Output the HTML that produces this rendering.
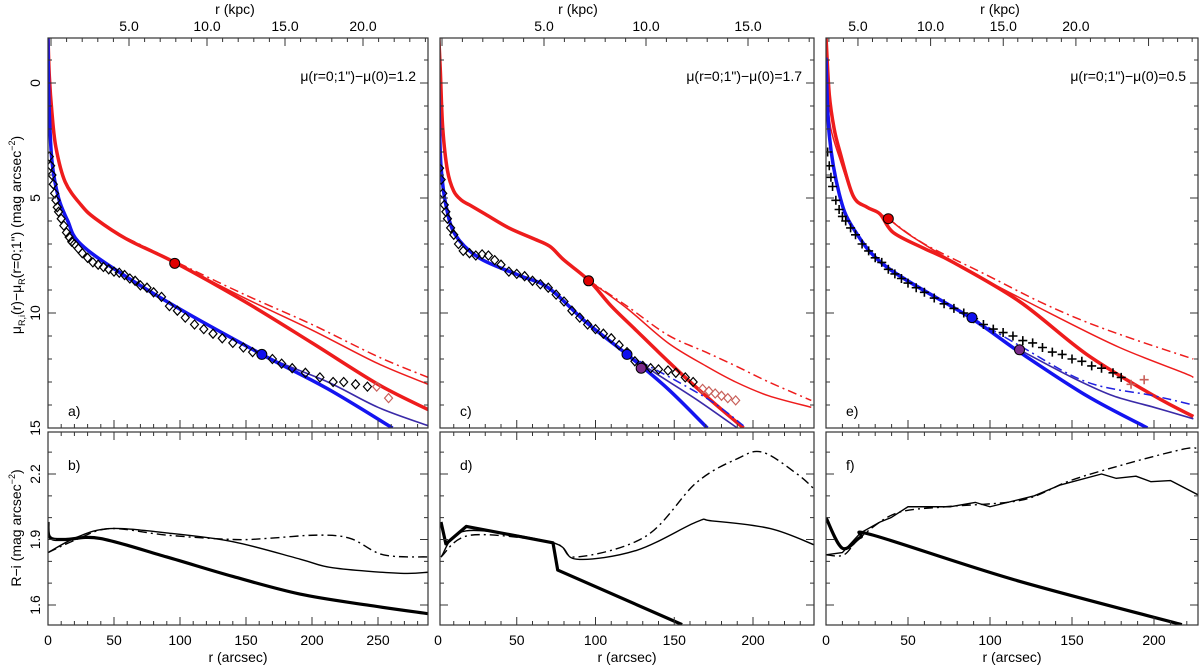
<!DOCTYPE html>
<html><head><meta charset="utf-8"><style>
html,body{margin:0;padding:0;background:#fff;}
svg{display:block;font-family:"Liberation Sans",sans-serif;}
</style></head><body>
<svg id="fig" width="1200" height="668" viewBox="0 0 1200 668" xmlns="http://www.w3.org/2000/svg"></svg>
<script>
// ---------- data ----------
const redThickA_r=[0,1,3,6,13,25,36,60,96,149,200,250,288];
const redThickA_m=[-2,-0.3,1.3,2.8,4.3,5.3,5.9,6.8,7.8,9.5,11.3,13.1,14.2];
const redThinA_r=[60,96,149,200,250,288];
const redThinA_m=[6.8,7.8,9.35,10.74,12.2,13.1];
const redDashA_r=[60,96,149,200,250,288];
const redDashA_m=[6.75,7.75,9.2,10.5,11.9,12.8];
const blueThickA_r=[0,0.7,3,8,15,23,48,99,162,212,261];
const blueThickA_m=[-2,0.8,3.4,5.0,6.0,6.9,8.0,9.8,11.8,13.3,15];
const blueThinA_r=[99,162,212,250,288];
const blueThinA_m=[9.8,11.8,13.0,14.1,14.9];
const dataA_r=[1,2,3,4,5,6,7,8,10,12,14,16,18,20,23,26,30,34,38,42,46,50,54,58,62,66,70,75,80,86,92,98,104,111,118,125,132,140,148,155,162,170,177,185,195,206,216,224,233,242];
const dataA_m=[3.2,3.6,4.0,4.4,4.8,5.1,5.4,5.6,5.9,6.2,6.5,6.7,6.9,7.0,7.2,7.4,7.6,7.8,7.9,8.0,8.1,8.2,8.25,8.35,8.5,8.6,8.8,8.9,9.1,9.3,9.7,9.9,10.2,10.5,10.7,10.9,11.1,11.3,11.5,11.7,11.8,12.0,12.2,12.4,12.6,12.8,13.0,13.0,13.1,13.2];
const extraA_r=[249,258];
const extraA_m=[13.2,13.7];

const redThickC_r=[0.5,1.5,3,6,10,15,20,30,45,60,71,80,96,110,125,140,157,175,194];
const redThickC_m=[-2,-0.5,1.95,3.8,4.7,5.1,5.3,5.7,6.3,6.75,7.1,7.7,8.6,9.7,10.7,11.7,12.8,13.9,15];
const redThinC_r=[96,120,146,170,189,210,237];
const redThinC_m=[8.6,9.8,11.3,12.3,13.0,13.6,14.1];
const redDashC_r=[96,120,146,170,189,210,237];
const redDashC_m=[8.6,9.7,10.96,11.7,12.3,13.0,13.8];
const blueThickC_r=[0,0.5,1,2,5,11,26,51,70,94,120,146,171];
const blueThickC_m=[-2,0,2,3.7,5.3,6.6,7.6,8.35,8.9,10.4,11.8,13.3,15];
const blueThinC_r=[120,140,165,190];
const blueThinC_m=[11.8,12.7,13.8,15];
const blueDashC_r=[128,150,175,194];
const blueDashC_m=[12.1,12.9,13.9,14.9];
const dataC_r=[1,2,3,4,5,6,8,10,13,16,20,24,28,32,36,40,45,50,55,60,65,70,75,80,85,90,95,100,105,110,115,120,125,130,135,140,146,151,157,162];
const dataC_m=[3.7,4.2,4.8,5.3,5.6,5.9,6.3,6.6,7.0,7.3,7.4,7.5,7.45,7.5,7.7,7.9,8.2,8.3,8.4,8.6,8.75,8.9,9.2,9.5,9.9,10.2,10.5,10.7,10.9,11.1,11.4,11.7,12.1,12.3,12.4,12.45,12.5,12.6,12.8,13.0];
const extraC_r=[168,172,176,180,184,189];
const extraC_m=[13.3,13.4,13.5,13.6,13.7,13.8];

const redThickE_r=[0,2,5,8.5,16.5,25,33,41,60,77.6,118,159,200,224];
const redThickE_m=[-2,0.5,2,3.0,4.9,5.4,5.7,6.5,7.2,7.8,9.5,11.8,13.6,14.5];
const redThinE_r=[0.5,3,8,16.5,25,33,38,53,88,139,179,218,224];
const redThinE_m=[0.6,2.0,3.2,4.9,5.4,5.7,5.9,6.7,8.2,10.1,11.5,12.6,12.8];
const redDashE_r=[38,60,98,130,159,190,224];
const redDashE_m=[5.9,7.0,8.35,9.5,10.4,11.2,12.0];
const blueThickE_r=[0,2,8,16.5,37,88,118,159,196];
const blueThickE_m=[-1.1,2.26,4.8,6.3,8.0,10.2,11.7,13.6,15];
const blueThinE_r=[118,150,175,200,224];
const blueThinE_m=[11.6,12.8,13.6,14.1,14.6];
const blueDashE_r=[89,120,159,200,224];
const blueDashE_m=[10.2,11.5,13.0,13.6,14.0];
const dataE_r=[1,2,3,4,6,8,10,12,15,18,22,26,30,34,38,42,46,50,55,60,66,72,78,84,90,96,102,108,114,120,126,132,138,144,150,156,162,168,175,180];
const dataE_m=[3.0,3.6,4.1,4.5,5.1,5.5,5.8,6.0,6.3,6.6,7.0,7.3,7.6,7.8,8.1,8.3,8.5,8.7,8.9,9.1,9.35,9.6,9.8,10.0,10.25,10.5,10.7,10.85,11.0,11.2,11.3,11.5,11.7,11.8,12.0,12.1,12.3,12.4,12.6,12.8];
const extraE_r=[186,194];
const extraE_m=[13.1,12.9];

const dotsA=[[96,7.84,'#e00000'],[162,11.8,'#1010ee']];
const dotsC=[[95.6,8.6,'#e00000'],[120,11.8,'#1010ee'],[129,12.4,'#7a2a8a']];
const dotsE=[[38,5.9,'#e00000'],[89,10.2,'#1010ee'],[118,11.6,'#7a2a8a']];

const colThickB_r=[0,1.4,13,39.4,89.9,140.4,190.9,241.4,288];
const colThickB_v=[1.98,1.91,1.90,1.905,1.82,1.73,1.65,1.60,1.56];
const colThinB_r=[0,21.7,47,90,140,191,216,267,288];
const colThinB_v=[1.84,1.91,1.95,1.93,1.89,1.81,1.77,1.745,1.75];
const colDashB_r=[0,21.7,47,90,140,166,204,229,254,288];
const colDashB_v=[1.84,1.90,1.95,1.92,1.90,1.905,1.92,1.905,1.83,1.82];

const colThickD_r=[1.9,5,18,73,76,155];
const colThickD_v=[1.98,1.88,1.96,1.885,1.76,1.51];
const colThinD_r=[1.9,18,73,88,126,164,174,211,239];
const colThinD_v=[1.82,1.94,1.885,1.81,1.85,1.98,1.985,1.95,1.875];
const colDashD_r=[1.9,21,73,88,132,164,190,206,228,239];
const colDashD_v=[1.82,1.92,1.885,1.82,1.915,2.16,2.27,2.30,2.20,2.13];

const colThickF_r=[0,10,21,28.7,115,217];
const colThickF_v=[2.00,1.86,1.91,1.92,1.715,1.51];
const colThinF_r=[0,10,21,33,39.6,50,76,91,100,127,143,168,177,189,198,210,228];
const colThinF_v=[1.83,1.84,1.93,1.98,2.0,2.05,2.05,2.07,2.05,2.10,2.15,2.20,2.18,2.19,2.165,2.17,2.10];
const colDashF_r=[0,11,21,42.7,73,119,149,180,210,224,228];
const colDashF_v=[1.83,1.83,1.91,2.02,2.05,2.08,2.17,2.24,2.30,2.32,2.30];

const xTicksA=[0,50,100,150,200,250];
const xTicksC=[0,50,100,150,200];
const xTicksE=[0,50,100,150,200];
const kpcA=[5,10,15,20];
const kpcC=[5,10,15];
const kpcE=[5,10,15,20];
const muTicks=[0,5,10,15];
const colTicks=[1.6,1.9,2.2];

// ---------- geometry ----------
const NS='http://www.w3.org/2000/svg';
const svg=document.getElementById('fig');
const TOP0=38,TOP1=428,BOT0=432,BOT1=625;
const muY=m=>83+m*23;
const colY=v=>474-(v-2.2)*218.3;
const panels=[
 {id:'a',lab:'a)',lab2:'b)',x0:48,x1:428,rx:r=>48+1.32*r,rmax:288,minor:10,xt:xTicksA,kx:k=>51+15.6*k,kt:kpcA,kmax:24,txt:'μ(r=0;1")−μ(0)=1.2',tx:235},
 {id:'c',lab:'c)',lab2:'d)',x0:440,x1:814,rx:r=>438+1.575*r,rmax:239,minor:10,xt:xTicksC,kx:k=>442+20.4*k,kt:kpcC,kmax:18,txt:'μ(r=0;1")−μ(0)=1.7',tx:578},
 {id:'e',lab:'e)',lab2:'f)',x0:826,x1:1198,rx:r=>826+1.64*r,rmax:227,minor:10,xt:xTicksE,kx:k=>785.3+14.53*k,kt:kpcE,kmax:28,txt:'μ(r=0;1")−μ(0)=0.5',tx:1000}
];
function mk(tag,attrs,parent){const e=document.createElementNS(NS,tag);for(const k in attrs)e.setAttribute(k,attrs[k]);(parent||svg).appendChild(e);return e;}
function smooth(pts){
 if(pts.length<3)return 'M'+pts.map(p=>p.join(',')).join('L');
 let d='M'+pts[0][0]+','+pts[0][1];
 for(let i=0;i<pts.length-1;i++){
  const p0=pts[Math.max(0,i-1)],p1=pts[i],p2=pts[i+1],p3=pts[Math.min(pts.length-1,i+2)];
  const c1=[p1[0]+(p2[0]-p0[0])/6,p1[1]+(p2[1]-p0[1])/6];
  const c2=[p2[0]-(p3[0]-p1[0])/6,p2[1]-(p3[1]-p1[1])/6];
  d+='C'+c1.join(',')+' '+c2.join(',')+' '+p2.join(',');
 }
 return d;
}
function line(g,P,rs,vs,yf,color,w,dash,name,poly){
 const pts=rs.map((r,i)=>[P.rx(r),yf(vs[i])]);
 const e=mk('path',{d:poly?'M'+pts.map(p=>p.join(',')).join('L'):smooth(pts),fill:'none',stroke:color,'stroke-width':w,'stroke-linejoin':'round'},g);
 if(dash)e.setAttribute('stroke-dasharray',dash);
 
 
}
function diamonds(g,P,rs,vs,color,name){
 rs.forEach((r,i)=>{const x=P.rx(r),y=muY(vs[i]);
  const e=mk('path',{d:`M${x},${y-4.5}L${x+4},${y}L${x},${y+4.5}L${x-4},${y}Z`,fill:'none',stroke:color,'stroke-width':1.2},g);
  
  });
}
function pluses(g,P,rs,vs,color,name){
 rs.forEach((r,i)=>{const x=P.rx(r),y=muY(vs[i]);
  const e=mk('path',{d:`M${x-4.5},${y}H${x+4.5}M${x},${y-4.5}V${y+4.5}`,fill:'none',stroke:color,'stroke-width':1.6},g);
  
  });
}
function text(g,x,y,s,size,anchor,rot,name){
 const t=mk('text',{x:x,y:y,'font-size':size,'text-anchor':anchor||'middle',fill:'#000'},g);
 if(rot)t.setAttribute('transform',`rotate(-90 ${x} ${y})`);
 t.textContent=s;
 
 
 return t;
}

const series={
 a:{rt:[redThickA_r,redThickA_m],rn:[redThinA_r,redThinA_m],rd:[redDashA_r,redDashA_m],bt:[blueThickA_r,blueThickA_m],bn:[blueThinA_r,blueThinA_m],bd:null,d:[dataA_r,dataA_m],x:[extraA_r,extraA_m],dots:dotsA,marker:'d',
    ct:[colThickB_r,colThickB_v],cn:[colThinB_r,colThinB_v],cd:[colDashB_r,colDashB_v]},
 c:{rt:[redThickC_r,redThickC_m],rn:[redThinC_r,redThinC_m],rd:[redDashC_r,redDashC_m],bt:[blueThickC_r,blueThickC_m],bn:[blueThinC_r,blueThinC_m],bd:[blueDashC_r,blueDashC_m],d:[dataC_r,dataC_m],x:[extraC_r,extraC_m],dots:dotsC,marker:'d',
    ct:[colThickD_r,colThickD_v],cn:[colThinD_r,colThinD_v],cd:[colDashD_r,colDashD_v]},
 e:{rt:[redThickE_r,redThickE_m],rn:[redThinE_r,redThinE_m],rd:[redDashE_r,redDashE_m],bt:[blueThickE_r,blueThickE_m],bn:[blueThinE_r,blueThinE_m],bd:[blueDashE_r,blueDashE_m],d:[dataE_r,dataE_m],x:[extraE_r,extraE_m],dots:dotsE,marker:'p',
    ct:[colThickF_r,colThickF_v],cn:[colThinF_r,colThinF_v],cd:[colDashF_r,colDashF_v]}
};

const defs=mk('defs',{});
panels.forEach(P=>{
 const S=series[P.id];
 const cp1=mk('clipPath',{id:'ct'+P.id},defs);mk('rect',{x:P.x0,y:TOP0,width:P.x1-P.x0,height:TOP1-TOP0},cp1);
 const cp2=mk('clipPath',{id:'cb'+P.id},defs);mk('rect',{x:P.x0,y:BOT0,width:P.x1-P.x0,height:BOT1-BOT0},cp2);

 const gt=mk('g',{'clip-path':`url(#ct${P.id})`});
 
 
 line(gt,P,S.rd[0],S.rd[1],muY,'#ee1c1c',1.5,'9,4,2,4','red-dashdot-profile');
 line(gt,P,S.rn[0],S.rn[1],muY,'#ee1c1c',1.5,null,'red-thin-profile');
 line(gt,P,S.rt[0],S.rt[1],muY,'#ee1c1c',3.5,null,'red-thick-profile');
 if(S.bd)line(gt,P,S.bd[0],S.bd[1],muY,'#2020e0',1.5,'9,4,2,4','blue-dashdot-profile');
 line(gt,P,S.bn[0],S.bn[1],muY,'#3a2aa8',1.6,null,'blue-thin-profile');
 line(gt,P,S.bt[0],S.bt[1],muY,'#1414f0',3.5,null,'blue-thick-profile');
 if(S.marker==='d'){diamonds(gt,P,S.d[0],S.d[1],'#000','data-point');diamonds(gt,P,S.x[0],S.x[1],'#c8605a','outer-data-point');}
 else{pluses(gt,P,S.d[0],S.d[1],'#000','data-point');pluses(gt,P,S.x[0],S.x[1],'#c8605a','outer-data-point');}
 S.dots.forEach(dp=>{const c=mk('circle',{cx:P.rx(dp[0]),cy:muY(dp[1]),r:5,fill:dp[2],stroke:'#000','stroke-width':1},gt);
  
  });

 const gb=mk('g',{'clip-path':`url(#cb${P.id})`});
 
 
 line(gb,P,S.cd[0],S.cd[1],colY,'#000',1.4,'9,4,2,4','colour-dashdot');
 line(gb,P,S.cn[0],S.cn[1],colY,'#000',1.4,null,'colour-thin',P.id==='e');
 line(gb,P,S.ct[0],S.ct[1],colY,'#000',3.2,null,'colour-thick',P.id==='c');

 [[TOP0,TOP1,'profile-frame'],[BOT0,BOT1,'colour-frame']].forEach(f=>{
  const r=mk('rect',{x:P.x0,y:f[0],width:P.x1-P.x0,height:f[1]-f[0],fill:'none',stroke:'#333','stroke-width':1.2});
  
  
 });
 const ga=mk('g',{stroke:'#333','stroke-width':1});
 
 
 for(let r=0;r<=P.rmax;r+=P.minor){const x=P.rx(r);if(x<P.x0-0.5||x>P.x1)continue;const L=(r%50===0)?8:4;
  mk('path',{d:`M${x},${BOT1}v${-L}M${x},${BOT0}v${L}M${x},${TOP1}v${-L}`},ga);}
 P.xt.forEach(r=>text(null,P.rx(r),645,String(r),14,'middle',false,'x-tick-label'));
 text(null,(P.x0+P.x1)/2,662,'r (arcsec)',14,'middle',false,'x-axis-title');
 for(let k=0;k<=P.kmax;k++){const x=P.kx(k);if(x<P.x0+1||x>P.x1-1)continue;const L=(k%5===0)?8:4;
  mk('path',{d:`M${x},${TOP0}v${L}`},ga);}
 P.kt.forEach(k=>text(null,P.kx(k),31,k.toFixed(1),14,'middle',false,'kpc-tick-label'));
 text(null,P.tx,14,'r (kpc)',14,'middle',false,'kpc-axis-title');
 for(let m=-2;m<=15;m++){const y=muY(m);if(y<TOP0+1)continue;const L=(m%5===0)?8:4;
  mk('path',{d:`M${P.x0},${y}h${L}M${P.x1},${y}h${-L}`},ga);}
 for(let i=16;i<=23;i++){const v=i/10,y=colY(v);const L=(i%3===1)?8:4;
  mk('path',{d:`M${P.x0},${y}h${L}M${P.x1},${y}h${-L}`},ga);}
 text(null,P.x1-12,81,P.txt,14,'end',false,'central-offset-label');
 text(null,P.x0+20,416,P.lab,14,'start',false,'panel-label');
 text(null,P.x0+20,470,P.lab2,14,'start',false,'panel-label');
});
muTicks.forEach(m=>text(null,40,muY(m),String(m),14,'middle',true,'y-tick-label'));
colTicks.forEach(v=>text(null,40,colY(v),v.toFixed(1),14,'middle',true,'y2-tick-label'));
const yt=text(null,21,235,'',14,'middle',true,'y-axis-title');
yt.innerHTML='μ<tspan font-size="9" dy="4">R,i</tspan><tspan dy="-4">(r)−μ</tspan><tspan font-size="9" dy="4">R</tspan><tspan dy="-4">(r=0;1") (mag arcsec</tspan><tspan font-size="9" dy="-6">−2</tspan><tspan dy="6">)</tspan>';
const yt2=text(null,21,528,'',14,'middle',true,'y2-axis-title');
yt2.innerHTML='R−i (mag arcsec<tspan font-size="9" dy="-6">−2</tspan><tspan dy="6">)</tspan>';
</script>
</body></html>
